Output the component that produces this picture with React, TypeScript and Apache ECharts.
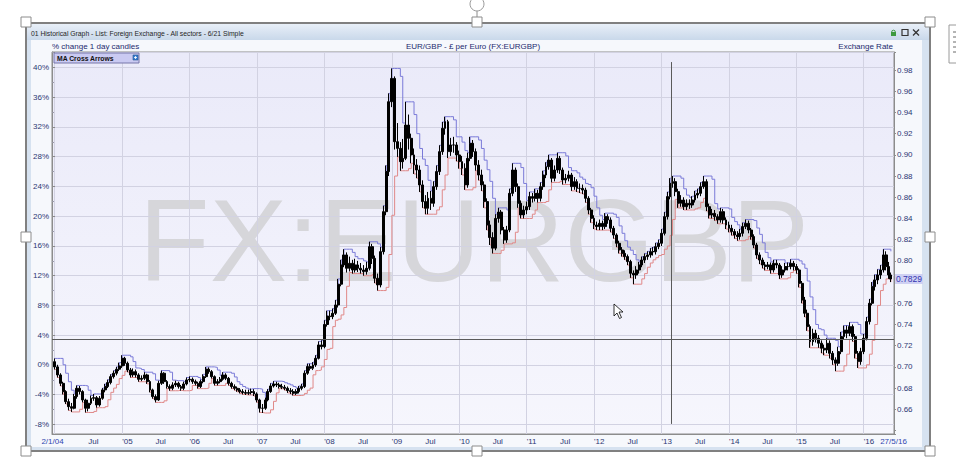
import React, { useEffect, useRef } from "react";
import * as echarts from "echarts";

// ---------- data ----------
// semi-monthly candles (1st and 16th of each month) from 2 Jan 2004, last candle 27 May 2016
const firstDate = "2004-01-02";
const lastDate = "2016-05-27";
const firstOpen = 0.7049;

const closes = [
  0.7000,0.6924,0.6845,0.6767,0.6672,0.6625,0.6610,0.6720,0.6798,0.6767,0.6688,0.6610,
  0.6657,0.6704,0.6710,0.6641,0.6704,0.6783,0.6814,0.6852,0.6908,0.6940,0.6978,0.7009,
  0.7081,0.7034,0.6971,0.6924,0.6955,0.6924,0.6883,0.6892,0.6924,0.6861,0.6783,0.6720,
  0.6688,0.6845,0.6940,0.6861,0.6814,0.6798,0.6830,0.6845,0.6814,0.6798,0.6839,0.6877,
  0.6883,0.6861,0.6845,0.6814,0.6861,0.6908,0.6978,0.6955,0.6908,0.6845,0.6861,0.6883,
  0.6924,0.6892,0.6845,0.6814,0.6798,0.6783,0.6767,0.6758,0.6751,0.6758,0.6767,0.6745,
  0.6688,0.6610,0.6610,0.6688,0.6767,0.6820,0.6839,0.6830,0.6814,0.6808,0.6798,0.6776,
  0.6767,0.6751,0.6767,0.6798,0.6814,0.6940,0.7003,0.6987,0.7018,0.7081,0.7207,0.7191,
  0.7400,0.7480,0.7474,0.7506,0.7584,0.7780,0.7961,0.8056,0.7930,0.7977,0.7914,0.7961,
  0.7930,0.7914,0.7899,0.7930,0.8134,0.8024,0.7836,0.7773,0.8087,0.8464,0.8842,0.9501,
  0.9721,0.9124,0.9061,0.8936,0.8967,0.9281,0.9156,0.8999,0.8904,0.8857,0.8716,0.8559,
  0.8496,0.8590,0.8543,0.8700,0.8842,0.9030,0.9250,0.9313,0.9030,0.9093,0.9093,0.8999,
  0.8936,0.8873,0.8716,0.8967,0.9109,0.9030,0.8904,0.8810,0.8716,0.8559,0.8339,0.8220,
  0.8120,0.8400,0.8460,0.8291,0.8197,0.8291,0.8637,0.8857,0.8700,0.8543,0.8433,0.8480,
  0.8511,0.8606,0.8590,0.8637,0.8590,0.8700,0.8810,0.8888,0.8951,0.8779,0.8857,0.8967,
  0.8857,0.8763,0.8779,0.8810,0.8700,0.8747,0.8684,0.8684,0.8668,0.8590,0.8480,0.8401,
  0.8338,0.8323,0.8354,0.8323,0.8417,0.8386,0.8307,0.8244,0.8166,0.8103,0.8071,0.8040,
  0.7993,0.7883,0.7867,0.7914,0.7961,0.8008,0.8040,0.8056,0.8087,0.8087,0.8134,0.8166,
  0.8260,0.8417,0.8606,0.8731,0.8747,0.8653,0.8543,0.8574,0.8511,0.8543,0.8527,0.8574,
  0.8621,0.8637,0.8700,0.8747,0.8511,0.8433,0.8448,0.8417,0.8386,0.8464,0.8386,0.8338,
  0.8307,0.8276,0.8244,0.8229,0.8260,0.8323,0.8354,0.8291,0.8229,0.8150,0.8056,0.8008,
  0.7961,0.7946,0.7961,0.7914,0.7977,0.7961,0.7867,0.7914,0.7946,0.7946,0.7977,0.7946,
  0.7914,0.7788,0.7631,0.7506,0.7380,0.7238,0.7317,0.7270,0.7223,0.7176,0.7160,0.7223,
  0.7128,0.7066,0.7034,0.7144,0.7286,0.7348,0.7317,0.7380,0.7286,0.7128,0.7050,0.7144,
  0.7270,0.7427,0.7600,0.7757,0.7820,0.7867,0.7914,0.8056,0.7946,0.7867,
  0.7829,
];

const highs = [
  0.7080,0.7020,0.6940,0.6860,0.6780,0.6700,0.6660,0.6745,0.6825,0.6820,0.6780,0.6700,
  0.6690,0.6730,0.6745,0.6725,0.6725,0.6800,0.6840,0.6880,0.6930,0.6965,0.7000,0.7040,
  0.7110,0.7095,0.7050,0.6990,0.6985,0.6975,0.6940,0.6920,0.6950,0.6935,0.6875,0.6795,
  0.6740,0.6870,0.6965,0.6950,0.6875,0.6835,0.6855,0.6870,0.6860,0.6830,0.6860,0.6900,
  0.6910,0.6900,0.6880,0.6860,0.6880,0.6930,0.7000,0.6995,0.6970,0.6920,0.6885,0.6905,
  0.6950,0.6940,0.6905,0.6860,0.6835,0.6815,0.6800,0.6790,0.6785,0.6785,0.6795,0.6790,
  0.6760,0.6700,0.6650,0.6710,0.6790,0.6845,0.6865,0.6860,0.6850,0.6840,0.6830,0.6815,
  0.6800,0.6790,0.6790,0.6820,0.6840,0.6965,0.7030,0.7030,0.7045,0.7110,0.7240,0.7250,
  0.7440,0.7530,0.7530,0.7550,0.7630,0.7830,0.8010,0.8110,0.8080,0.8040,0.8010,0.8020,
  0.8000,0.7980,0.7960,0.7990,0.8180,0.8160,0.8050,0.7880,0.8130,0.8520,0.8900,0.9580,
  0.9815,0.9740,0.9300,0.9120,0.9150,0.9500,0.9380,0.9200,0.9060,0.8960,0.8900,0.8760,
  0.8620,0.8650,0.8660,0.8750,0.8900,0.9090,0.9310,0.9360,0.9330,0.9160,0.9170,0.9120,
  0.9040,0.8990,0.8920,0.9020,0.9170,0.9140,0.9060,0.8950,0.8860,0.8750,0.8590,0.8380,
  0.8270,0.8440,0.8500,0.8480,0.8320,0.8330,0.8680,0.8920,0.8880,0.8730,0.8570,0.8520,
  0.8560,0.8650,0.8640,0.8680,0.8670,0.8740,0.8850,0.8930,0.9000,0.8970,0.8900,0.9020,
  0.8990,0.8880,0.8820,0.8850,0.8830,0.8790,0.8770,0.8730,0.8720,0.8690,0.8610,0.8500,
  0.8430,0.8370,0.8390,0.8380,0.8450,0.8440,0.8410,0.8330,0.8260,0.8190,0.8130,0.8100,
  0.8060,0.8010,0.7910,0.7950,0.7990,0.8040,0.8070,0.8090,0.8120,0.8130,0.8170,0.8200,
  0.8300,0.8460,0.8650,0.8780,0.8800,0.8780,0.8680,0.8620,0.8600,0.8580,0.8580,0.8610,
  0.8660,0.8680,0.8740,0.8800,0.8770,0.8540,0.8490,0.8480,0.8440,0.8500,0.8490,0.8410,
  0.8370,0.8340,0.8300,0.8280,0.8300,0.8360,0.8390,0.8380,0.8310,0.8250,0.8170,0.8080,
  0.8030,0.7990,0.7990,0.7985,0.8010,0.8010,0.7980,0.7950,0.7980,0.7985,0.8015,0.8000,
  0.7970,0.7930,0.7810,0.7660,0.7540,0.7400,0.7360,0.7350,0.7300,0.7250,0.7210,0.7270,
  0.7250,0.7150,0.7090,0.7190,0.7330,0.7390,0.7390,0.7420,0.7400,0.7310,0.7150,0.7180,
  0.7310,0.7470,0.7640,0.7800,0.7870,0.7920,0.7960,0.8110,0.8090,0.7990,
  0.7890,
];

const lows = [
  0.6975,0.6900,0.6820,0.6740,0.6650,0.6590,0.6575,0.6600,0.6700,0.6740,0.6665,0.6570,
  0.6580,0.6640,0.6680,0.6615,0.6625,0.6690,0.6760,0.6800,0.6835,0.6890,0.6920,0.6960,
  0.6990,0.7010,0.6950,0.6900,0.6905,0.6900,0.6860,0.6865,0.6875,0.6840,0.6760,0.6700,
  0.6665,0.6680,0.6830,0.6840,0.6795,0.6775,0.6780,0.6810,0.6795,0.6775,0.6780,0.6825,
  0.6855,0.6840,0.6825,0.6795,0.6800,0.6845,0.6895,0.6935,0.6890,0.6825,0.6825,0.6845,
  0.6870,0.6875,0.6825,0.6795,0.6780,0.6765,0.6750,0.6740,0.6735,0.6735,0.6740,0.6725,
  0.6665,0.6570,0.6565,0.6595,0.6675,0.6755,0.6805,0.6810,0.6795,0.6790,0.6780,0.6755,
  0.6745,0.6730,0.6735,0.6750,0.6780,0.6800,0.6925,0.6965,0.6970,0.7000,0.7070,0.7165,
  0.7175,0.7380,0.7440,0.7450,0.7490,0.7560,0.7760,0.7940,0.7890,0.7900,0.7880,0.7890,
  0.7895,0.7880,0.7860,0.7870,0.7910,0.7970,0.7790,0.7720,0.7750,0.8060,0.8430,0.8800,
  0.9450,0.9050,0.8980,0.8850,0.8870,0.8950,0.9050,0.8920,0.8820,0.8780,0.8650,0.8500,
  0.8440,0.8440,0.8480,0.8510,0.8670,0.8810,0.9000,0.9190,0.8970,0.8990,0.9020,0.8940,
  0.8870,0.8810,0.8670,0.8690,0.8940,0.8980,0.8850,0.8760,0.8660,0.8500,0.8290,0.8150,
  0.8070,0.8100,0.8360,0.8250,0.8160,0.8170,0.8270,0.8610,0.8650,0.8500,0.8400,0.8400,
  0.8440,0.8480,0.8550,0.8560,0.8550,0.8560,0.8670,0.8780,0.8860,0.8740,0.8750,0.8830,
  0.8820,0.8720,0.8730,0.8750,0.8660,0.8670,0.8650,0.8640,0.8630,0.8550,0.8440,0.8360,
  0.8300,0.8290,0.8290,0.8290,0.8300,0.8350,0.8270,0.8210,0.8130,0.8070,0.8040,0.8010,
  0.7960,0.7840,0.7780,0.7830,0.7880,0.7940,0.7980,0.8010,0.8030,0.8050,0.8060,0.8110,
  0.8140,0.8240,0.8390,0.8580,0.8690,0.8610,0.8500,0.8510,0.8480,0.8480,0.8490,0.8500,
  0.8550,0.8590,0.8610,0.8680,0.8470,0.8400,0.8400,0.8380,0.8350,0.8360,0.8350,0.8300,
  0.8270,0.8240,0.8210,0.8190,0.8200,0.8230,0.8300,0.8260,0.8200,0.8120,0.8020,0.7970,
  0.7930,0.7910,0.7920,0.7880,0.7890,0.7930,0.7830,0.7840,0.7890,0.7910,0.7920,0.7910,
  0.7880,0.7750,0.7600,0.7470,0.7340,0.7180,0.7200,0.7230,0.7180,0.7130,0.7110,0.7130,
  0.7080,0.7020,0.6960,0.7010,0.7120,0.7260,0.7270,0.7290,0.7240,0.7080,0.6990,0.7020,
  0.7120,0.7250,0.7400,0.7580,0.7720,0.7780,0.7830,0.7890,0.7910,0.7830,
  0.7800,
];

// price at which the left "% change" axis reads 0%
const basePrice = 0.7018;
// price channel look-back (candles) for the blue/red step lines
const channelLength = 3;

// axis ranges
const priceMin = 0.6367;
const priceMax = 0.997;
const xMinDate = "2003-12-18";
const xMaxDate = "2016-06-13";
const percentTickLabels = ["-8%", "-4%", "0%", "4%", "8%", "12%", "16%", "20%", "24%", "28%", "32%", "36%", "40%"];

// cursor cross-hair position
const cursorDate = "2013-02-21";
const cursorPrice = 0.7262;
const cursorTop = 0.9875;
const cursorBottom = 0.6462;

// ---------- derived ----------
function buildDates(n: number): string[] {
  const out: string[] = [];
  for (let k = 0; k < n - 1; k++) {
    const y = 2004 + Math.floor(k / 24);
    const m = Math.floor((k % 24) / 2) + 1;
    const d = k % 2 === 0 ? "01" : "16";
    out.push(`${y}-${String(m).padStart(2, "0")}-${d}`);
  }
  out[0] = firstDate;
  out.push(lastDate);
  return out;
}
const dates = buildDates(closes.length);
const opens = closes.map((_, i) => (i === 0 ? firstOpen : closes[i - 1]));
const upper = highs.map((_, i) => Math.max(...highs.slice(Math.max(0, i - channelLength + 1), i + 1)));
const lower = lows.map((_, i) => Math.min(...lows.slice(Math.max(0, i - channelLength + 1), i + 1)));
const lastClose = closes[closes.length - 1];

const PCT_SCALE = 1.25; // left axis stores percent * 1.25 so that 4% steps fall on a "nice" 5-unit grid
const pctAxisMin = (priceMin / basePrice - 1) * 100 * PCT_SCALE;
const pctAxisMax = (priceMax / basePrice - 1) * 100 * PCT_SCALE;

const DAY = 86400000;
const FONT = '"Liberation Sans", Arial, sans-serif';
const LABEL = "#2b3773";
const GRIDC = "#d2d2e2";

function toTime(s: string) {
  return (echarts as any).time.parse(s).getTime();
}

export default function App() {
  const ref = useRef<HTMLDivElement>(null);
  useEffect(() => {
    document.body.style.margin = "0";
    const chart = echarts.init(ref.current!, null, { renderer: "svg" });
    const LG = (a: string, b: string) =>
      new echarts.graphic.LinearGradient(0, 0, 0, 1, [
        { offset: 0, color: a },
        { offset: 1, color: b },
      ]);
    const handle = (cx: number, cy: number) => ({
      type: "rect",
      z: 60,
      shape: { x: cx - 5, y: cy - 5, width: 10, height: 10 },
      style: { fill: "#ffffff", stroke: "#8c8c8c", lineWidth: 1 },
    });
    const txt = (x: number, y: number, text: string, size: number, color: string, align = "left", weight = "normal", z = 20) => ({
      type: "text",
      z,
      x,
      y,
      style: {
        text,
        font: `${weight} ${size}px ${FONT}`,
        fill: color,
        textAlign: align,
        textVerticalAlign: "middle",
      },
    });

    const option: any = {
      animation: false,
      backgroundColor: "#ffffff",
      textStyle: { fontFamily: FONT },
      grid: {
        left: 52,
        right: 62,
        top: 52,
        bottom: 34,
        show: true,
        borderColor: "#8c8c8c",
        borderWidth: 1,
        backgroundColor: "transparent",
        outerBoundsMode: "none",
      },
      xAxis: [
        {
          type: "time",
          min: toTime(xMinDate),
          max: toTime(xMaxDate),
          splitNumber: 25,
          minInterval: DAY * 182.5,
          maxInterval: DAY * 182.5,
          axisLine: { show: true, onZero: false, lineStyle: { color: "#8c8c8c" } },
          axisTick: { show: false },
          splitLine: { show: false },
          axisLabel: {
            color: LABEL,
            fontSize: 8,
            margin: 3,
            align: "left",
            hideOverlap: false,
            formatter: (v: number) => {
              const d = new Date(v);
              if (d.getDate() !== 1) return "";
              if (d.getMonth() === 6) return "Jul";
              if (d.getMonth() === 0 && d.getFullYear() > 2004) return "'" + String(d.getFullYear()).slice(2);
              return "";
            },
          },
        },
        {
          type: "time",
          min: toTime(xMinDate),
          max: toTime(xMaxDate),
          minInterval: DAY * 365,
          maxInterval: DAY * 365,
          position: "top",
          axisLine: { show: false, onZero: false },
          axisTick: { show: false },
          axisLabel: { show: false },
          splitLine: { show: true, lineStyle: { color: GRIDC, width: 1 } },
        },
      ],
      yAxis: [
        {
          type: "value",
          position: "left",
          min: pctAxisMin,
          max: pctAxisMax,
          splitNumber: 13,
          axisLine: { show: true, onZero: false, lineStyle: { color: "#8c8c8c" } },
          axisTick: { show: true, inside: true, length: 3, lineStyle: { color: "#8c8c8c" } },
          minorTick: { show: true, splitNumber: 2, length: 2, lineStyle: { color: "#9a9aa8" } },
          splitLine: { show: true, lineStyle: { color: GRIDC, width: 1 } },
          axisLabel: {
            color: LABEL,
            fontSize: 8,
            margin: 3,
            formatter: (v: number) => {
              const t = v / 5;
              if (Math.abs(t - Math.round(t)) > 1e-6) return "";
              const idx = Math.round(t) + 2;
              return percentTickLabels[idx] ?? "";
            },
          },
        },
        {
          type: "value",
          position: "right",
          min: priceMin,
          max: priceMax,
          splitNumber: 18,
          axisLine: { show: true, onZero: false, lineStyle: { color: "#8c8c8c" } },
          axisTick: { show: true, length: 2, lineStyle: { color: "#8c8c8c" } },
          splitLine: { show: false },
          axisLabel: {
            color: LABEL,
            fontSize: 8,
            margin: 3,
            formatter: (v: number) => {
              const t = v / 0.02;
              if (Math.abs(t - Math.round(t)) > 1e-6 || v < 0.65) return "";
              // the last-price marker covers this tick label in the reference
              if (Math.abs(v - lastClose) < 0.006) return "";
              return v.toFixed(2);
            },
          },
        },
      ],
      series: [
        {
          type: "line",
          name: "Channel high",
          xAxisIndex: 0,
          yAxisIndex: 1,
          step: "end",
          symbol: "none",
          data: dates.map((d, i) => [d, upper[i]]),
          lineStyle: { color: "#7a7ad8", width: 1 },
          z: 2,
        },
        {
          type: "line",
          name: "Channel low",
          xAxisIndex: 0,
          yAxisIndex: 1,
          step: "end",
          symbol: "none",
          data: dates.map((d, i) => [d, lower[i]]),
          lineStyle: { color: "#e08888", width: 1 },
          z: 2,
        },
        {
          type: "candlestick",
          name: "FX:EURGBP",
          xAxisIndex: 0,
          yAxisIndex: 1,
          data: dates.map((d, i) => [d, opens[i], closes[i], lows[i], highs[i]]),
          encode: { x: 0, y: [1, 2, 3, 4] },
          barWidth: 2.4,
          itemStyle: { color: "#000", color0: "#000", borderColor: "#000", borderColor0: "#000", borderWidth: 1 },
          z: 3,
          markLine: {
            silent: true,
            symbol: "none",
            precision: 4,
            animation: false,
            data: [
              { yAxis: cursorPrice, lineStyle: { color: "#5a5a5a", width: 1, type: "solid" }, label: { show: false } },
              [
                { coord: [cursorDate, cursorTop], lineStyle: { color: "#5a5a5a", width: 1, type: "solid" }, label: { show: false } },
                { coord: [cursorDate, cursorBottom] },
              ],
              {
                yAxis: lastClose,
                lineStyle: { color: "rgba(0,0,0,0)", width: 1, opacity: 1 },
                label: {
                  show: true,
                  position: "end",
                  distance: 1,
                  opacity: 1,
                  formatter: () => lastClose.toFixed(4),
                  color: "#3434b0",
                  backgroundColor: "#cfd1f3",
                  fontSize: 8.5,
                  padding: [1, 1, 0, 1],
                  fontFamily: FONT,
                },
              },
            ],
          },
        },
      ],
      graphic: [
        // window frame
        { type: "rect", z: -20, shape: { x: 26, y: 23, width: 904, height: 428 }, style: { fill: "#d6e2f0", stroke: "#808080", lineWidth: 2 } },
        { type: "rect", z: -19, shape: { x: 27, y: 24, width: 902, height: 16 }, style: { fill: LG("#e8eff8", "#c9d8ea") } },
        { type: "rect", z: -19, shape: { x: 31, y: 40, width: 891, height: 407 }, style: { fill: "#f6f8fc" } },
        // plot background + watermark
        { type: "rect", z: -15, shape: { x: 52, y: 52, width: 842, height: 382 }, style: { fill: LG("#eaeaf9", "#f6f6fd") } },
        {
          type: "text",
          z: -14,
          x: 474,
          y: 241,
          style: { text: "FX:EURGBP", font: `116px ${FONT}`, fill: "#d6d6da", textAlign: "center", textVerticalAlign: "middle" },
        },
        // titles
        txt(31, 33, "01 Historical Graph - List: Foreign Exchange - All sectors - 6/21 Simple", 6.8, "#262626"),
        txt(52, 46, "% change 1 day candles", 8, "#1c2a6e"),
        txt(473, 46, "EUR/GBP - £ per Euro (FX:EURGBP)", 8, "#1c2a6e", "center"),
        txt(893, 46, "Exchange Rate", 8, "#1c2a6e", "right"),
        // title bar icons
        { type: "rect", z: 20, shape: { x: 891, y: 32, width: 5, height: 4 }, style: { fill: "#3e9a3e" } },
        { type: "arc", z: 20, shape: { cx: 893.5, cy: 32, r: 1.8, startAngle: Math.PI, endAngle: 0 }, style: { stroke: "#3e9a3e", fill: "none", lineWidth: 1 } },
        { type: "rect", z: 20, shape: { x: 902, y: 29.5, width: 6, height: 6 }, style: { fill: "none", stroke: "#333", lineWidth: 1.2 } },
        { type: "line", z: 20, shape: { x1: 913, y1: 29.5, x2: 919, y2: 35.5 }, style: { stroke: "#333", lineWidth: 1.2 } },
        { type: "line", z: 20, shape: { x1: 919, y1: 29.5, x2: 913, y2: 35.5 }, style: { stroke: "#333", lineWidth: 1.2 } },
        // indicator legend box
        { type: "rect", z: 20, shape: { x: 54, y: 53, width: 85, height: 10 }, style: { fill: "#cacaf2", stroke: "#7676aa", lineWidth: 1 } },
        txt(57, 58, "MA Cross Arrows", 6.8, "#111111", "left", "bold"),
        { type: "rect", z: 21, shape: { x: 133, y: 55, width: 5, height: 5 }, style: { fill: "#3b7fd4", stroke: "#24508c", lineWidth: 0.6 } },
        { type: "line", z: 22, shape: { x1: 135.5, y1: 56, x2: 135.5, y2: 59 }, style: { stroke: "#fff", lineWidth: 0.8 } },
        { type: "line", z: 22, shape: { x1: 134, y1: 57.5, x2: 137, y2: 57.5 }, style: { stroke: "#fff", lineWidth: 0.8 } },
        // date-range end labels
        txt(52.5, 441, "2/1/04", 8, "#3047b0", "center"),
        txt(893.5, 441, "27/5/16", 8, "#3047b0", "center"),
        // selection handles
        { type: "line", z: 59, shape: { x1: 477, y1: 11, x2: 477, y2: 18 }, style: { stroke: "#8c8c8c", lineWidth: 1 } },
        { type: "circle", z: 60, shape: { cx: 477, cy: 4, r: 7 }, style: { fill: "#ffffff", stroke: "#9a9a9a", lineWidth: 1 } },
        handle(26, 22), handle(477, 22), handle(930, 22),
        handle(26, 237), handle(930, 237),
        handle(26, 451), handle(477, 451), handle(930, 451),
        // side icon
        { type: "rect", z: 20, shape: { x: 949, y: 25, width: 14, height: 38 }, style: { fill: "#ffffff", stroke: "#9a9a9a", lineWidth: 1 } },
        ...[32, 37, 42, 47, 52].map((y) => ({ type: "line", z: 21, shape: { x1: 953, y1: y, x2: 962, y2: y }, style: { stroke: "#6a6a6a", lineWidth: 1 } })),
        // mouse pointer
        {
          type: "polygon",
          z: 70,
          shape: { points: [[614, 304], [614, 316], [617, 313], [619.5, 318.5], [621.5, 317.5], [619, 312], [623, 312]] },
          style: { fill: "#ffffff", stroke: "#000000", lineWidth: 0.8 },
        },
      ],
    };
    chart.setOption(option);
    return () => chart.dispose();
  }, []);
  return <div ref={ref} style={{ position: "absolute", left: 0, top: 0, width: 956, height: 468 }} />;
}
